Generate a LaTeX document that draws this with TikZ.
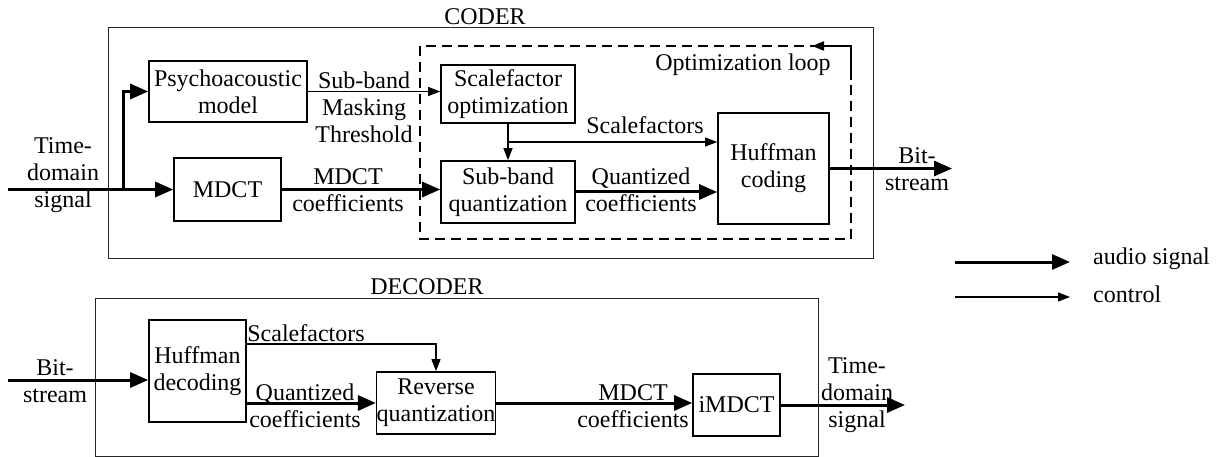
\documentclass[tikz,border=0pt]{standalone}
\usepackage{fontspec}
\setmainfont{Liberation Serif}
\usetikzlibrary{arrows.meta,calc}
\begin{document}
\begin{tikzpicture}[x=1pt,y=-1pt,
 txt/.style={font=\fontsize{24}{27}\selectfont, align=center, inner sep=0pt},
 blk/.style={draw, line width=1.6pt, txt},
 frame/.style={draw=black!85, line width=1pt},
 loopbox/.style={draw, line width=1.8pt, dash pattern=on 10pt off 6pt},
 sig/.style={line width=3pt, -{Triangle[length=18pt,width=15pt]}},
 ctl/.style={line width=1.1pt, -{Triangle[length=12pt,width=9pt]}},
]
\useasboundingbox (0,0) rectangle (1223,457);

% frames
\draw[frame] (108,28) rectangle (873,258);
\draw[frame] (95,298) rectangle (818,456);
\node[txt] (coder) at (485,17) {CODER};
\node[txt] (decoder) at (427,287) {DECODER};
\draw[loopbox] (420,46) rectangle (851,239);

% coder blocks
\node[blk, minimum width=158pt, minimum height=61pt] (psy) at (228,91.5) {Psychoacoustic\\model};
\node[blk, minimum width=107pt, minimum height=63pt] (mdct) at (227.5,189.5) {MDCT};
\node[blk, minimum width=134pt, minimum height=58pt] (sfo) at (508,94) {Scalefactor\\optimization};
\node[blk, minimum width=134pt, minimum height=62pt] (sbq) at (508,192) {Sub-band\\quantization};
\node[blk, minimum width=111pt, minimum height=111pt] (huf) at (773.5,168.5) {Huffman\\coding};

% coder connectors
\coordinate (in1) at (8,189.5);
\coordinate (j1) at (123,189.5);
\coordinate (out1) at (952,168.5);
\draw[sig] (in1) -- (mdct.west);
\draw[sig] (j1) |- (psy.west);
\draw[ctl] (psy.east) -- (psy.east -| sfo.west);
\draw[sig] (mdct.east) -- (mdct.east -| sbq.west);
\draw[ctl] (sfo.south) -- (sbq.north);
\coordinate (br) at ($(sfo.south)!0.5!(sbq.north)$);
\draw[ctl] (br) -- (br -| huf.west);
\draw[sig] (sbq.east) -- (sbq.east -| huf.west);
\draw[sig] (huf.east) -- (out1);
\coordinate (lp1) at (851,80);
\coordinate (lp2) at (812,46);
\draw[line width=1.8pt, -{Triangle[length=12pt,width=9pt]}] (lp1) |- (lp2);

% coder labels
\node[txt] (tds1) at (63,175) {Time-\\domain\\signal};
\node[txt] (mtl) at (364,107.5) {Sub-band\\Masking\\Threshold};
\node[txt] (mcl) at (348,190) {MDCT\\coefficients};
\node[txt] (sfl) at (645,125) {Scalefactors};
\node[txt] (qcl) at (641,190) {Quantized\\coefficients};
\node[txt] (bs1) at (917,169) {Bit-\\stream};
\node[txt] (opt) at (743,65) {Optimization loop};

% decoder blocks
\node[blk, minimum width=97pt, minimum height=102pt] (hufd) at (197.5,371) {Huffman\\decoding};
\node[blk, minimum width=118pt, minimum height=62pt] (rq) at (436,403) {Reverse\\quantization};
\node[blk, minimum width=87pt, minimum height=62pt] (imdct) at (736.5,405) {iMDCT};

% decoder connectors
\coordinate (in2) at (8,380);
\coordinate (out2) at (905,405);
\draw[sig] (in2) -- (in2 -| hufd.west);
\draw[ctl] ($(hufd.east)+(0,-27)$) -| (rq.north);
\draw[sig] (rq.west -| hufd.east) -- (rq.west);
\draw[sig] (rq.east) -- (rq.east -| imdct.west);
\draw[sig] (imdct.east) -- (out2);

% decoder labels
\node[txt] (bs2) at (55,381) {Bit-\\stream};
\node[txt] (sfl2) at (306,333) {Scalefactors};
\node[txt] (qcl2) at (305,406) {Quantized\\coefficients};
\node[txt] (mcl2) at (633,406) {MDCT\\coefficients};
\node[txt] (tds2) at (857,395) {Time-\\domain\\signal};

% legend
\coordinate (lg1) at (955,262);
\coordinate (lg2) at (1070,262);
\coordinate (lg3) at (955,297);
\coordinate (lg4) at (1070,297);
\draw[sig] (lg1) -- (lg2);
\draw[ctl] (lg3) -- (lg4);
\node[txt, anchor=west] (lga) at (1093,259) {audio signal};
\node[txt, anchor=west] (lgc) at (1093,294) {control};
\end{tikzpicture}
\end{document}
